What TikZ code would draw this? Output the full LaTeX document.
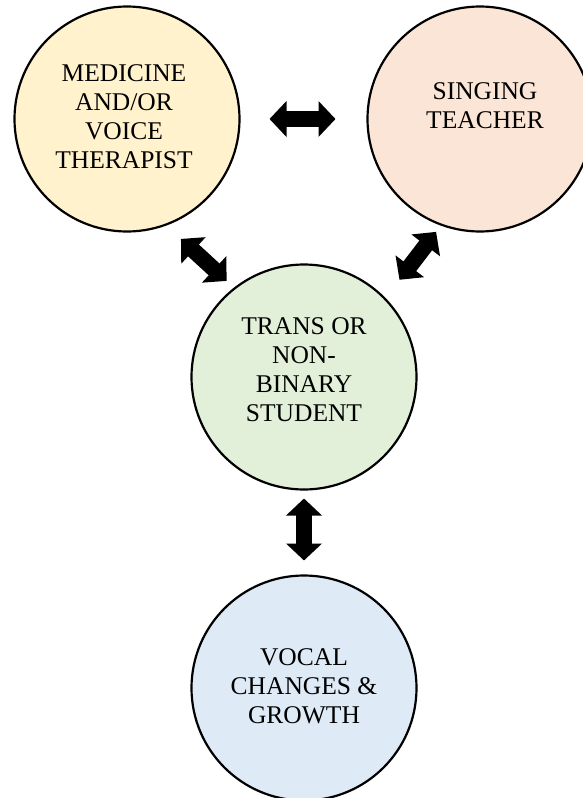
\documentclass[tikz,border=0pt]{standalone}
\usepackage{fontspec}
\setmainfont{Liberation Serif}
\usetikzlibrary{arrows.meta}
\definecolor{cyellow}{HTML}{FFF2CC}
\definecolor{cpeach}{HTML}{FBE5D6}
\definecolor{cgreen}{HTML}{E2F0D9}
\definecolor{cblue}{HTML}{DEEBF7}
\tikzset{
  bubble/.style={circle, draw=black, line width=2.2pt, minimum size=225pt, inner sep=0pt, outer sep=0pt},
  ctext/.style={align=center, inner sep=0pt, font=\fontsize{25.5}{29}\selectfont},
  bigarrow/.style={line width=16pt, line cap=butt, {Triangle[width=35pt,length=17pt]}-{Triangle[width=35pt,length=17pt]}}
}
\begin{document}
\begin{tikzpicture}[x=1pt,y=-1pt]
\useasboundingbox (0,0) rectangle (583,798);
\clip (0,0) rectangle (583,798);
\node[bubble, fill=cyellow] (A) at (127,119) {};
\node[bubble, fill=cpeach] (B) at (480,119) {};
\node[bubble, fill=cgreen] (C) at (304,377) {};
\node[bubble, fill=cblue] (D) at (304,688) {};
\node[ctext] (tA) at (124,117) {MEDICINE\\AND/OR\\VOICE\\THERAPIST};
\node[ctext] (tB) at (485,106) {SINGING\\TEACHER};
\node[ctext] (tC) at (304,370) {TRANS OR\\NON-\\BINARY\\STUDENT};
\node[ctext] (tD) at (304,686) {VOCAL\\CHANGES \&\\GROWTH};
\draw[bigarrow, shorten <=30pt, shorten >=32pt] (A.east) -- (B.west);
\draw[bigarrow, shorten <=21pt, shorten >=11pt] (A.-70) -- (C.128);
\draw[bigarrow, shorten <=9pt, shorten >=24pt] (B.-110) -- (C.44);
\draw[bigarrow, shorten <=9pt, shorten >=15pt] (C.south) -- (D.north);
\end{tikzpicture}
\end{document}
